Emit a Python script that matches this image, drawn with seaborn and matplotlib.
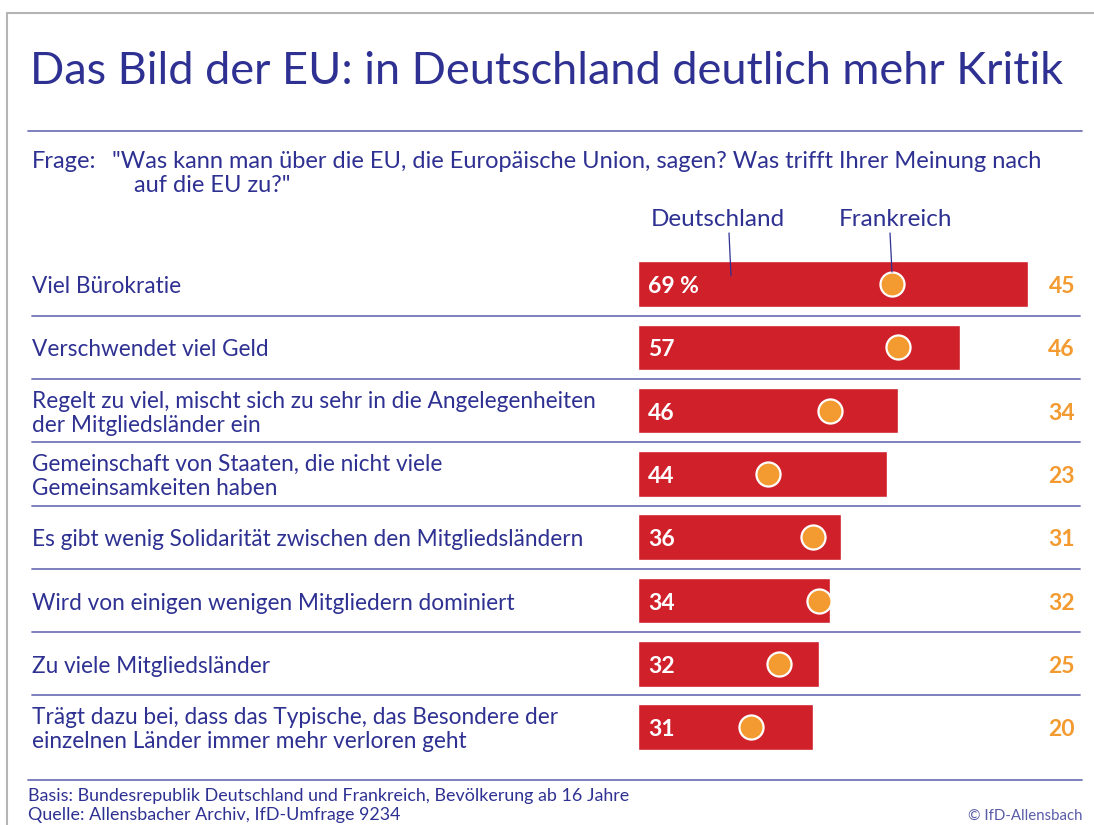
import matplotlib
matplotlib.use("Agg")
import matplotlib.pyplot as plt
import seaborn as sns
import pandas as pd

# data
labels = [
    "Viel Bürokratie",
    "Verschwendet viel Geld",
    "Regelt zu viel, mischt sich zu sehr in die Angelegenheiten\nder Mitgliedsländer ein",
    "Gemeinschaft von Staaten, die nicht viele\nGemeinsamkeiten haben",
    "Es gibt wenig Solidarität zwischen den Mitgliedsländern",
    "Wird von einigen wenigen Mitgliedern dominiert",
    "Zu viele Mitgliedsländer",
    "Trägt dazu bei, dass das Typische, das Besondere der\neinzelnen Länder immer mehr verloren geht",
]
deutschland = [69, 57, 46, 44, 36, 34, 32, 31]
frankreich = [45, 46, 34, 23, 31, 32, 25, 20]

df = pd.DataFrame({"label": labels, "de": deutschland, "fr": frankreich})

BLUE = "#2E3192"
LINE = "#7476B8"
RED = "#D0202A"
ORANGE = "#F39A30"
FONT = ["Lato", "DejaVu Sans"]

sns.set_theme(style="white")
plt.rcParams["font.family"] = FONT

W, H = 1094, 825
fig = plt.figure(figsize=(W / 100, H / 100), dpi=100)
ax = fig.add_axes([0, 0, 1, 1])

# pixel -> data mapping: x=0 at 638 px, 5.65 px per percent; rows 63.3 px apart
PX = 5.65
X0 = 638
ROW = 63.3
Y0 = 284

def dx(px):
    return (px - X0) / PX

def dy(py):
    return (py - Y0) / ROW

sns.barplot(data=df, x="de", y="label", color=RED, width=0.72, saturation=1,
            orient="h", ax=ax, zorder=2)
ax.scatter(df["fr"], range(len(df)), s=300, color=ORANGE, edgecolor="white",
           linewidth=1.6, zorder=4)

ax.set_xlim(dx(0), dx(W))
ax.set_ylim(dy(H), dy(0))
ax.axis("off")

for i, (d, f) in enumerate(zip(deutschland, frankreich)):
    txt = f"{d} %" if i == 0 else str(d)
    ax.text(dx(648), i + 0.04, txt, color="white", fontsize=16.5, fontweight="bold",
            va="center", ha="left", zorder=5)
    ax.text(dx(1075), i + 0.04, str(f), color=ORANGE, fontsize=16.5, fontweight="bold",
            va="center", ha="right")
    ax.text(dx(32), i + 0.04, labels[i], color=BLUE, fontsize=16.3, va="center",
            ha="left", linespacing=1.18)

# row separators
for i in range(len(labels) - 1):
    ax.plot([dx(32), dx(1080)], [i + 0.5, i + 0.5], color=LINE, lw=1.3, zorder=1)

# title / footer rules
ax.plot([dx(28), dx(1082)], [dy(131), dy(131)], color=LINE, lw=1.3)
ax.plot([dx(28), dx(1082)], [dy(780), dy(780)], color=LINE, lw=1.3)

# frame
ax.plot([dx(7), dx(7)], [dy(13), dy(H)], color="#B5B5B5", lw=1.5)
ax.plot([dx(7), dx(W)], [dy(13), dy(13)], color="#B5B5B5", lw=1.5)

# series headers with leader lines
ax.text(dx(718), dy(220), "Deutschland", color=BLUE, fontsize=17.5, ha="center", va="center")
ax.plot([dx(729), dx(731)], [dy(233), dy(276)], color=BLUE, lw=0.9, zorder=5)
ax.text(dx(895), dy(220), "Frankreich", color=BLUE, fontsize=17.5, ha="center", va="center")
ax.plot([dx(890), dx(892)], [dy(233), dy(272)], color=BLUE, lw=0.9, zorder=5)

# title and question
fig.text(30 / W, 1 - 72 / H, "Das Bild der EU: in Deutschland deutlich mehr Kritik",
         color=BLUE, fontsize=32.5, va="center", ha="left")
fig.text(32 / W, 1 - 161 / H, "Frage:", color=BLUE, fontsize=17, va="center")
fig.text(112 / W, 1 - 161 / H,
         "\"Was kann man über die EU, die Europäische Union, sagen? Was trifft Ihrer Meinung nach",
         color=BLUE, fontsize=17, va="center")
fig.text(134 / W, 1 - 186 / H, "auf die EU zu?\"", color=BLUE, fontsize=17, va="center")

# footer
fig.text(28 / W, 1 - 796 / H,
         "Basis: Bundesrepublik Deutschland und Frankreich, Bevölkerung ab 16 Jahre",
         color=BLUE, fontsize=12.9, va="center")
fig.text(28 / W, 1 - 815 / H, "Quelle: Allensbacher Archiv, IfD-Umfrage 9234",
         color=BLUE, fontsize=12.9, va="center")
fig.text(1082 / W, 1 - 816 / H, "© IfD-Allensbach", color="#5A5CA8",
         fontsize=10.8, va="center", ha="right")

fig.savefig("out.png", dpi=100)
